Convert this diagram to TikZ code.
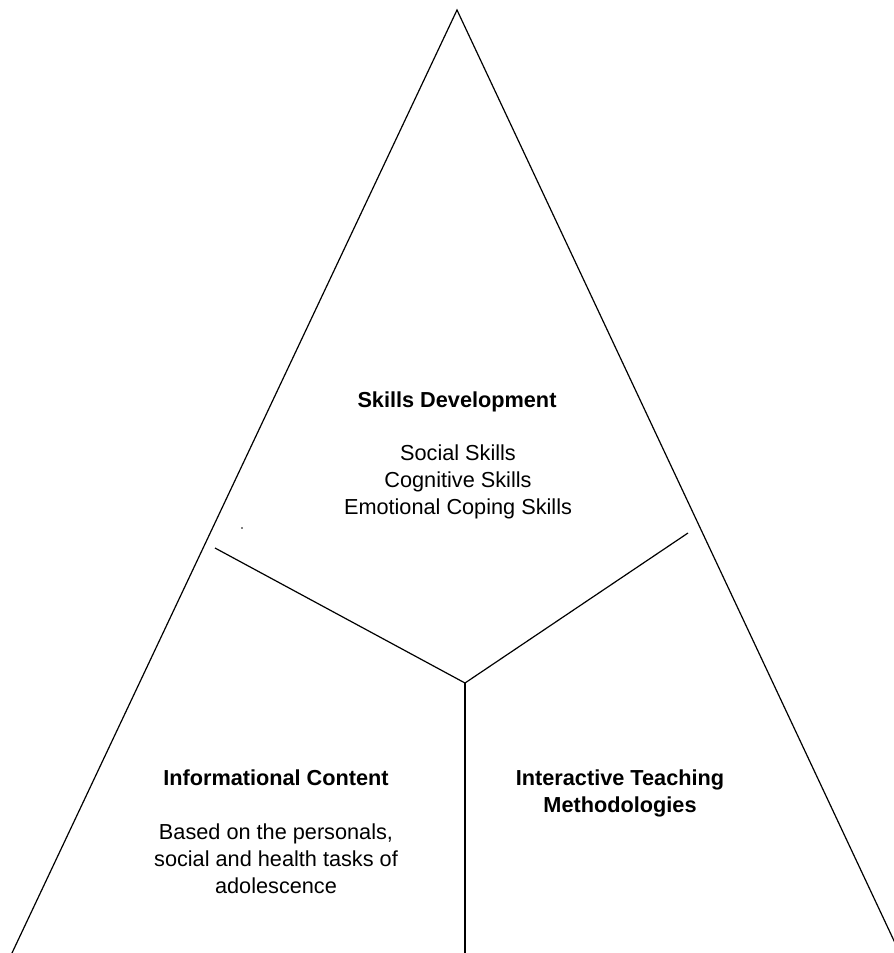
\documentclass[tikz,border=0pt]{standalone}
\usepackage{fontspec}
\setmainfont{Liberation Sans}
\begin{document}
\begin{tikzpicture}[x=1pt,y=-1pt,
  edge/.style={draw=black,line width=1.2pt},
  txt/.style={font=\fontsize{21.7}{27}\selectfont,anchor=base,inner sep=0pt},
  ttl/.style={font=\fontsize{21.7}{27}\selectfont\bfseries,anchor=base,inner sep=0pt}]
\clip (0,0) rectangle (894,953);
\useasboundingbox (0,0) rectangle (894,953);
\coordinate (apex) at (457,10);
\coordinate (bl) at (12,953);
\coordinate (br) at (896,945);
\coordinate (c) at (465,683);
\coordinate (la) at (215,548);
\coordinate (ra) at (688,533);
\coordinate (bot) at (465,953);
\draw[edge,line join=miter] (bl) -- (apex) -- (br);
\draw[edge] (la) -- (c) -- (ra);
\draw[edge] (c) -- (bot);
\fill (242,528) circle (0.8);
\node[ttl] (sd) at (457,407) {Skills Development};
\node[txt] (s1) at (458,460) {Social Skills};
\node[txt] (s2) at (458,487) {Cognitive Skills};
\node[txt] (s3) at (458,514) {Emotional Coping Skills};
\node[ttl] (ic) at (276,785) {Informational Content};
\node[txt] (i1) at (276,839) {Based on the personals,};
\node[txt] (i2) at (276,866) {social and health tasks of};
\node[txt] (i3) at (276,893) {adolescence};
\node[ttl] (it1) at (620,785) {Interactive Teaching};
\node[ttl] (it2) at (620,812) {Methodologies};
\end{tikzpicture}
\end{document}
